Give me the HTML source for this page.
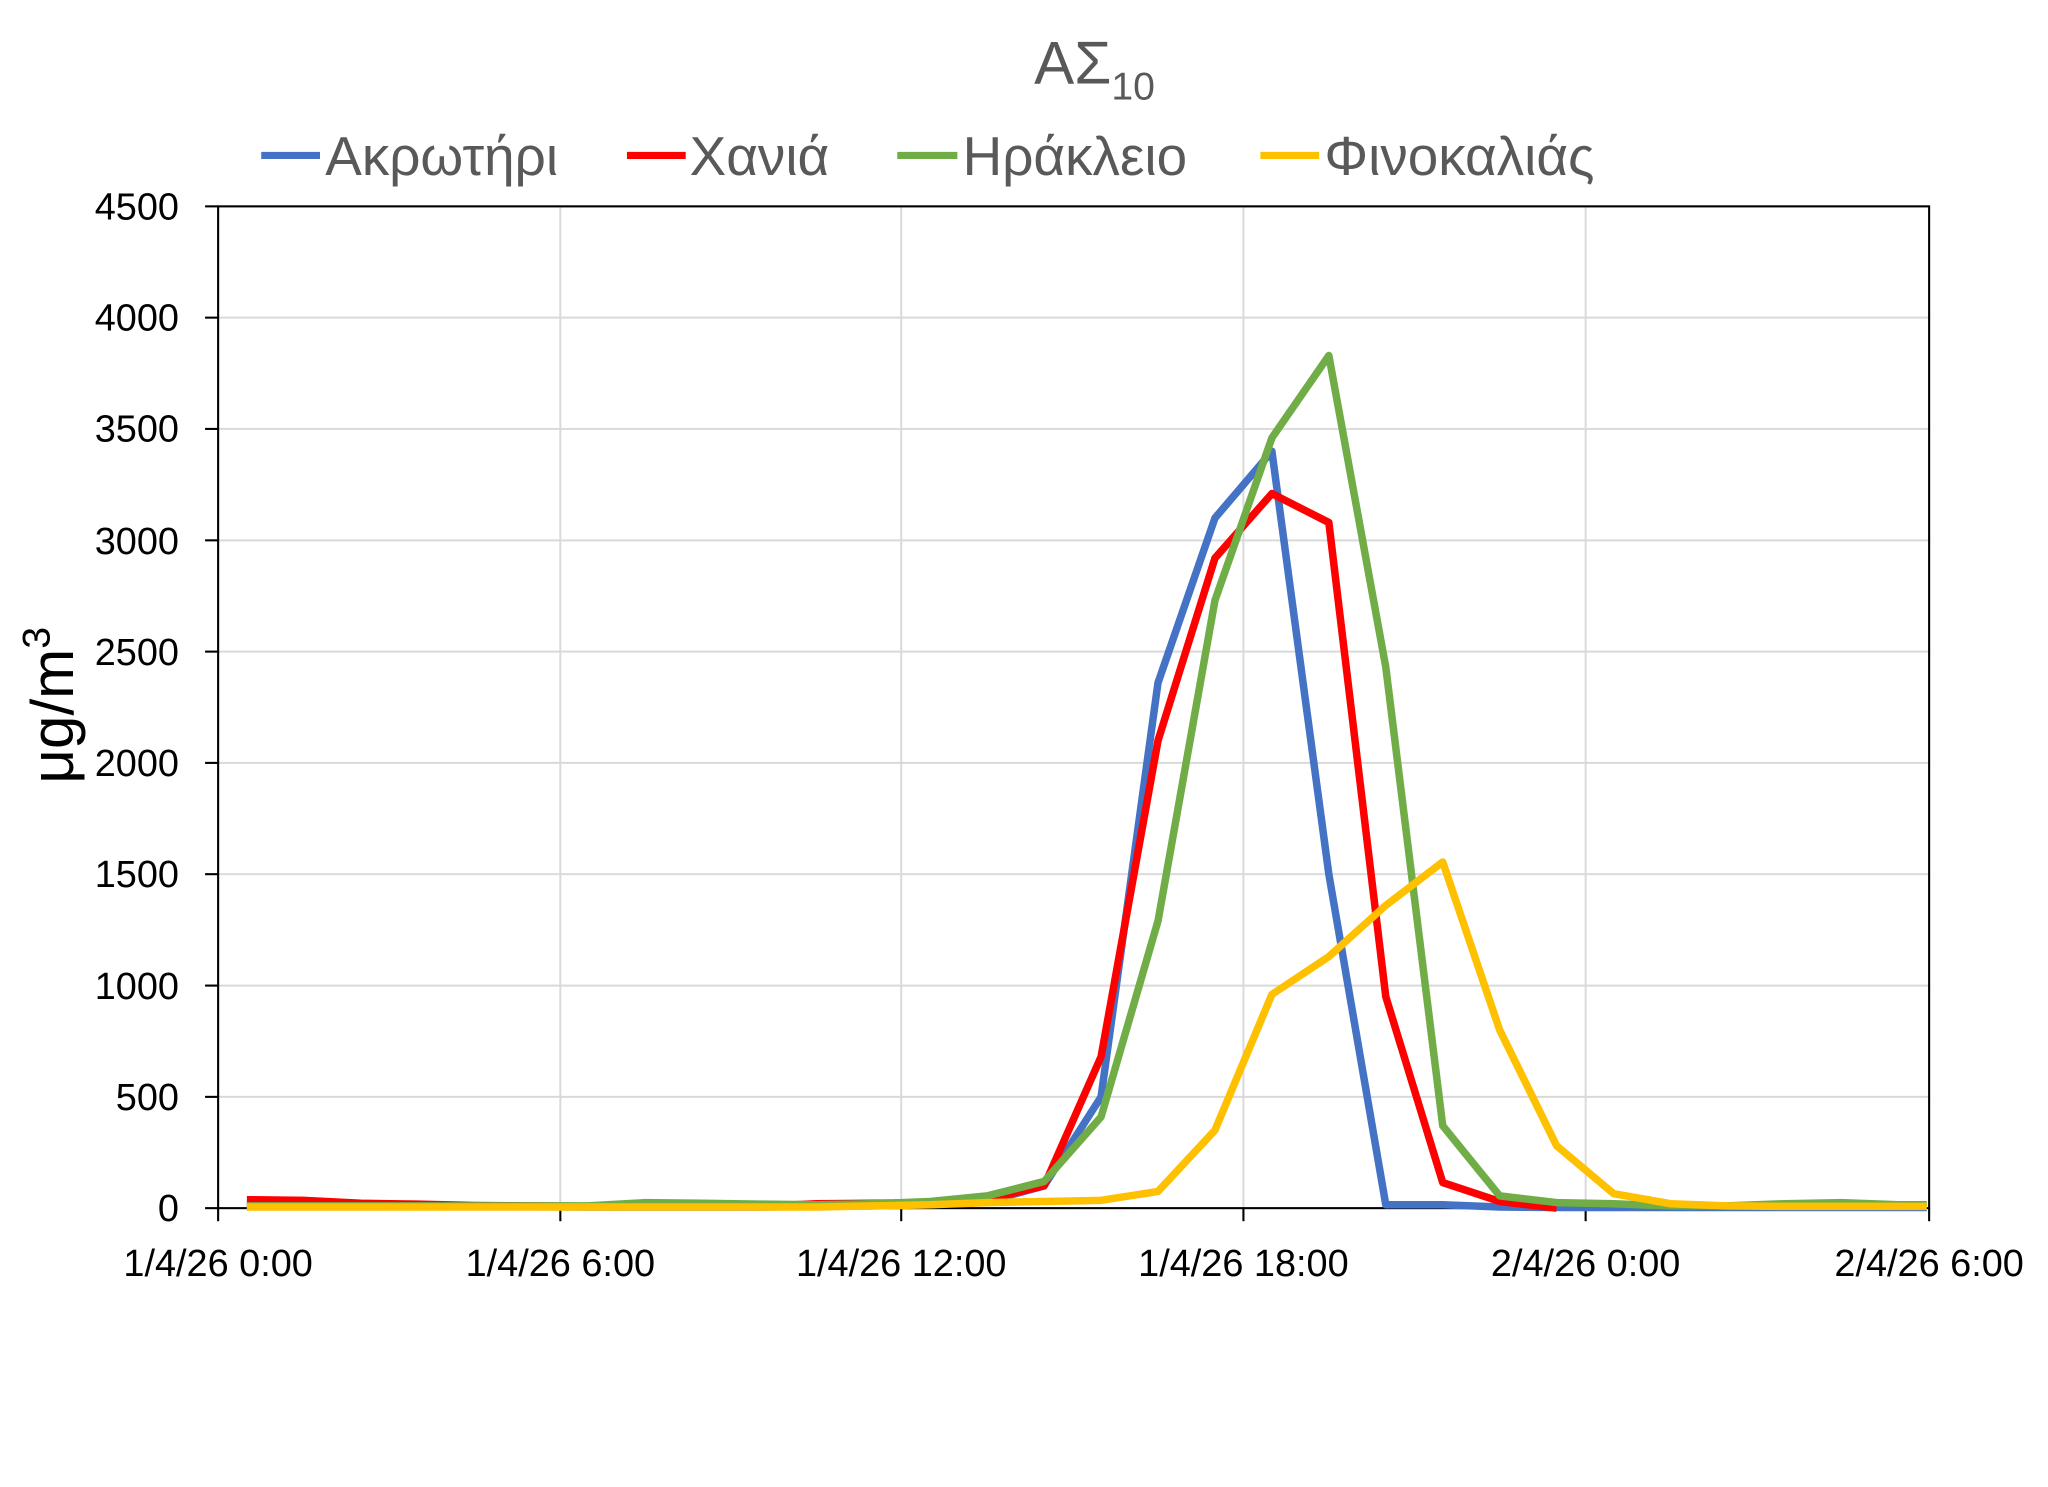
<!DOCTYPE html>
<html><head><meta charset="utf-8"><style>html,body{margin:0;padding:0;background:#fff}svg{display:block}</style></head>
<body>
<svg width="2048" height="1487" viewBox="0 0 1568 1138.5" xmlns="http://www.w3.org/2000/svg" font-family="'Liberation Sans', 'DejaVu Sans', sans-serif">
<rect width="1568" height="1138.5" fill="#fff"/>
<g stroke="#d9d9d9" stroke-width="1.5">
<line x1="167" x2="1477" y1="158" y2="158"/><line x1="167" x2="1477" y1="243.2" y2="243.2"/>
<line x1="167" x2="1477" y1="328.4" y2="328.4"/><line x1="167" x2="1477" y1="413.7" y2="413.7"/>
<line x1="167" x2="1477" y1="498.9" y2="498.9"/><line x1="167" x2="1477" y1="584.1" y2="584.1"/>
<line x1="167" x2="1477" y1="669.3" y2="669.3"/><line x1="167" x2="1477" y1="754.6" y2="754.6"/>
<line x1="167" x2="1477" y1="839.8" y2="839.8"/>
<line x1="429" x2="429" y1="158" y2="925"/><line x1="690" x2="690" y1="158" y2="925"/>
<line x1="952" x2="952" y1="158" y2="925"/><line x1="1214" x2="1214" y1="158" y2="925"/>
</g>
<g stroke="#000" stroke-width="1.6" fill="none">
<rect x="167" y="158" width="1310" height="767"/>
<line x1="157" x2="167" y1="158" y2="158"/><line x1="157" x2="167" y1="243.2" y2="243.2"/>
<line x1="157" x2="167" y1="328.4" y2="328.4"/><line x1="157" x2="167" y1="413.7" y2="413.7"/>
<line x1="157" x2="167" y1="498.9" y2="498.9"/><line x1="157" x2="167" y1="584.1" y2="584.1"/>
<line x1="157" x2="167" y1="669.3" y2="669.3"/><line x1="157" x2="167" y1="754.6" y2="754.6"/>
<line x1="157" x2="167" y1="839.8" y2="839.8"/><line x1="157" x2="167" y1="925" y2="925"/>
<line x1="167" x2="167" y1="925" y2="935"/><line x1="429" x2="429" y1="925" y2="935"/>
<line x1="690" x2="690" y1="925" y2="935"/><line x1="952" x2="952" y1="925" y2="935"/>
<line x1="1214" x2="1214" y1="925" y2="935"/><line x1="1477" x2="1477" y1="925" y2="935"/>
</g>
<g font-size="29" fill="#000" text-anchor="end">
<text x="137" y="168">4500</text><text x="137" y="253">4000</text><text x="137" y="338">3500</text>
<text x="137" y="424">3000</text><text x="137" y="509">2500</text><text x="137" y="594">2000</text>
<text x="137" y="679">1500</text><text x="137" y="765">1000</text><text x="137" y="850">500</text>
<text x="137" y="935">0</text>
</g>
<g font-size="29" fill="#000" text-anchor="middle">
<text x="167" y="977">1/4/26 0:00</text><text x="429" y="977">1/4/26 6:00</text>
<text x="690" y="977">1/4/26 12:00</text><text x="952" y="977">1/4/26 18:00</text>
<text x="1214" y="977">2/4/26 0:00</text><text x="1477" y="977">2/4/26 6:00</text>
</g>
<text transform="translate(56,540) rotate(-90)" font-size="46" text-anchor="middle" fill="#000">μg/m<tspan font-size="30" dy="-18">3</tspan></text>
<text x="838" y="64" font-size="46" text-anchor="middle" fill="#595959">ΑΣ<tspan font-size="30" dy="12">10</tspan></text>
<g font-size="42" fill="#595959">
<line x1="200" x2="245" y1="119" y2="119" stroke="#4472c4" stroke-width="5.5"/><text x="249" y="134">Ακρωτήρι</text>
<line x1="480" x2="525" y1="119" y2="119" stroke="#ff0000" stroke-width="5.5"/><text x="528" y="134">Χανιά</text>
<line x1="687" x2="733" y1="119" y2="119" stroke="#70ad47" stroke-width="5.5"/><text x="737" y="134">Ηράκλειο</text>
<line x1="965" x2="1010" y1="119" y2="119" stroke="#ffc000" stroke-width="5.5"/><text x="1014" y="134">Φινοκαλιάς</text>
</g>
<g transform="translate(189,925) scale(43.6,-0.17044)" fill="none" stroke-linejoin="round">
<polyline vector-effect="non-scaling-stroke" stroke="#4472c4" stroke-width="7.5" points="0,10 1,10 2,8 3,8 4,6 5,6 6,5 7,5 8,5 9,5 10,8 11,10 12,15 13,30 14,100 15,500 16,2360 17,3100 18,3400 19,1500 20,15 21,15 22,5 23,3 24,3 25,3 26,3 27,3 28,3 29,3 29.5,3"/>
<polyline vector-effect="non-scaling-stroke" stroke="#ff0000" stroke-width="7.5" points="0,38 1,35 2,22 3,18 4,12 5,10 6,8 7,8 8,8 9,8 10,20 11,22 12,25 13,40 14,100 15,680 16,2100 17,2920 18,3210 19,3080 20,950 21,115 22,30 23,0"/>
<polyline vector-effect="non-scaling-stroke" stroke="#70ad47" stroke-width="7.5" points="0,10 1,10 2,10 3,10 4,10 5,10 6,10 7,25 8,22 9,18 10,15 11,20 12,30 13,55 14,120 15,410 16,1290 17,2730 18,3460 19,3830 20,2430 21,370 22,55 23,25 24,20 25,10 26,10 27,20 28,25 29,15 29.5,15"/>
<polyline vector-effect="non-scaling-stroke" stroke="#ffc000" stroke-width="7.5" points="0,5 1,5 2,5 3,5 4,5 5,5 6,5 7,5 8,5 9,5 10,5 11,10 12,15 13,25 14,30 15,35 16,75 17,350 18,960 19,1130 20,1360 21,1555 22,800 23,280 24,65 25,20 26,10 27,8 28,8 29,8 29.5,8"/>
</g>
</svg>
</body></html>
